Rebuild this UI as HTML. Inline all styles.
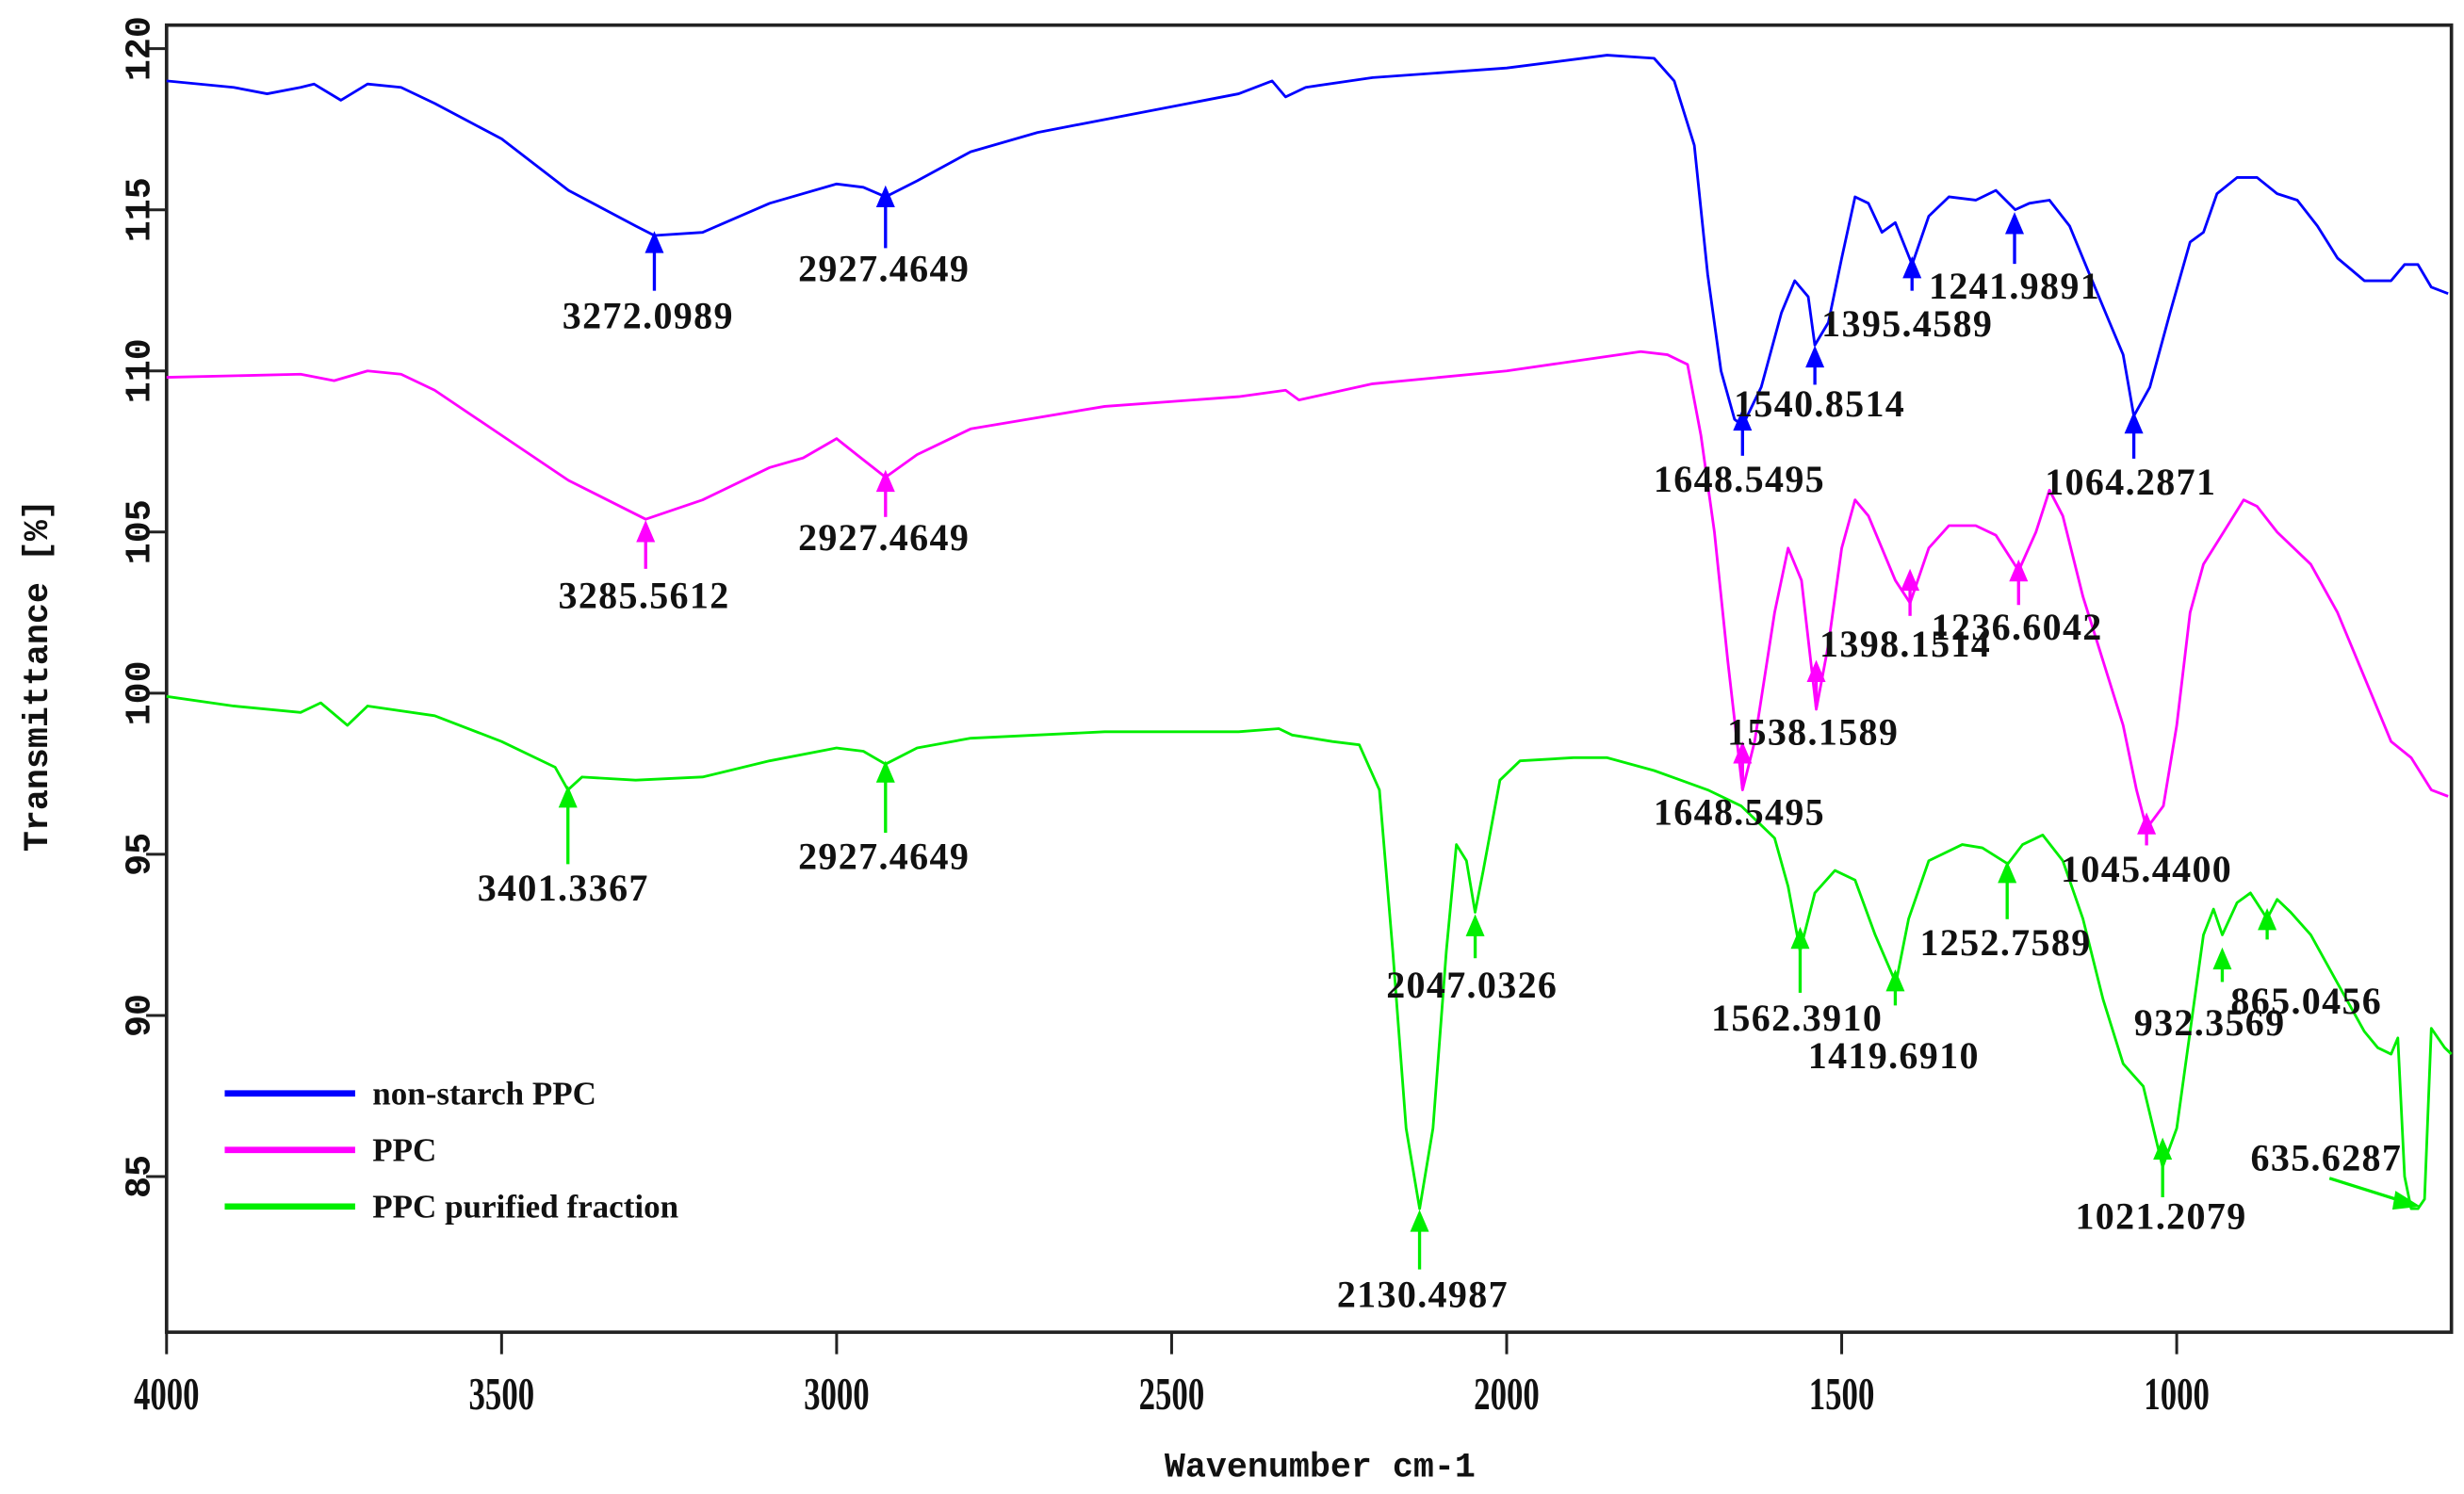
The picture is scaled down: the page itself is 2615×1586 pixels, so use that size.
<!DOCTYPE html>
<html><head><meta charset="utf-8"><style>
html,body{margin:0;padding:0;background:#fff;}
svg{display:block;}
text{font-family:"Liberation Serif","Noto Serif CJK SC",serif;font-weight:bold;fill:#111;}
</style></head><body>
<svg id="chart" width="2615" height="1586" viewBox="0 0 1568 951" preserveAspectRatio="none" xmlns="http://www.w3.org/2000/svg">
<rect x="106" y="16" width="1454" height="832" fill="none" stroke="#222" stroke-width="2.2"/>
<g id="axes"></g>
<g id="series"></g>
<g id="annots"></g>
<text transform="translate(30,430) rotate(-90)" text-anchor="middle" font-size="22" style="font-family:'Liberation Mono',monospace">Transmittance [%]</text>
<text x="840" y="940" text-anchor="middle" font-size="22" style="font-family:'Liberation Mono',monospace">Wavenumber cm-1</text>
<g>
<line x1="143" y1="696" x2="226" y2="696" stroke="#0000ff" stroke-width="4"/>
<text x="237" y="703" font-size="21">non-starch PPC</text>
<line x1="143" y1="732" x2="226" y2="732" stroke="#ff00ff" stroke-width="4"/>
<text x="237" y="739" font-size="21">PPC</text>
<line x1="143" y1="768" x2="226" y2="768" stroke="#00ee00" stroke-width="4"/>
<text x="237" y="775" font-size="21">PPC purified fraction</text>
</g>
</svg>
<script>
const xTicks = [4000,3500,3000,2500,2000,1500,1000];
const yTicks = [85,90,95,100,105,110,115,120];
const blueWn = [4000,3900,3850,3800,3780,3740,3700,3650,3600,3500,3400,3300,3272,3200,3100,3000,2960,2927,2880,2800,2700,2500,2400,2350,2330,2300,2200,2000,1850,1780,1750,1720,1700,1680,1660,1648,1620,1590,1570,1550,1540,1520,1500,1480,1460,1440,1420,1395,1370,1340,1300,1270,1241,1220,1190,1160,1130,1100,1080,1064,1040,1010,980,960,940,910,880,850,820,790,760,720,680,660,640,620,595];
const blueVal = [119.0,118.8,118.6,118.8,118.9,118.4,118.9,118.8,118.3,117.2,115.6,114.5,114.2,114.3,115.2,115.8,115.7,115.4,115.9,116.8,117.4,118.2,118.6,119.0,118.5,118.8,119.1,119.4,119.8,119.7,119.0,117.0,113.0,110.0,108.5,108.3,109.5,111.8,112.8,112.3,110.8,111.5,113.5,115.4,115.2,114.3,114.6,113.3,114.8,115.4,115.3,115.6,115.0,115.2,115.3,114.5,113.0,111.5,110.5,108.6,109.5,111.8,114.0,114.3,115.5,116.0,116.0,115.5,115.3,114.5,113.5,112.8,112.8,113.3,113.3,112.6,112.4];
const pinkWn = [4000,3800,3750,3700,3650,3600,3500,3400,3285,3200,3100,3050,3000,2970,2927,2880,2800,2600,2400,2330,2310,2200,2000,1800,1760,1730,1710,1690,1670,1648,1630,1600,1580,1560,1538,1520,1500,1480,1460,1420,1398,1370,1340,1300,1270,1236,1210,1190,1170,1140,1110,1080,1060,1045,1020,1000,980,960,930,900,880,850,800,760,720,680,650,620,595];
const pinkVal = [109.8,109.9,109.7,110.0,109.9,109.4,108.0,106.6,105.4,106.0,107.0,107.3,107.9,107.4,106.7,107.4,108.2,108.9,109.2,109.4,109.1,109.6,110.0,110.6,110.5,110.2,108.0,105.0,101.0,97.0,98.5,102.5,104.5,103.5,99.5,101.5,104.5,106.0,105.5,103.5,102.8,104.5,105.2,105.2,104.9,103.8,105.0,106.3,105.5,103.0,101.0,99.0,97.0,95.8,96.5,99.0,102.5,104.0,105.0,106.0,105.8,105.0,104.0,102.5,100.5,98.5,98.0,97.0,96.8];
const greenWn = [4000,3900,3800,3770,3730,3700,3600,3500,3420,3401,3380,3300,3200,3100,3000,2960,2927,2880,2800,2600,2400,2340,2320,2260,2220,2190,2170,2150,2130,2110,2090,2075,2060,2047,2035,2010,1980,1900,1850,1780,1700,1650,1620,1600,1580,1562,1540,1510,1480,1450,1419,1400,1370,1320,1290,1252,1230,1200,1170,1140,1110,1080,1050,1021,1000,980,960,945,932,910,890,865,850,830,800,760,720,700,680,670,660,650,640,630,620,600,590];
const greenVal = [99.9,99.6,99.4,99.7,99.0,99.6,99.3,98.5,97.7,97.0,97.4,97.3,97.4,97.9,98.3,98.2,97.8,98.3,98.6,98.8,98.8,98.9,98.7,98.5,98.4,97.0,92.0,86.5,84.0,86.5,92.0,95.3,94.8,93.2,94.5,97.3,97.9,98.0,98.0,97.6,97.0,96.5,95.9,95.5,94.0,92.0,93.8,94.5,94.2,92.5,91.0,93.0,94.8,95.3,95.2,94.7,95.3,95.6,94.8,93.0,90.5,88.5,87.8,85.3,86.5,89.5,92.5,93.3,92.5,93.5,93.8,93.0,93.6,93.2,92.5,91.0,89.5,89.0,88.8,89.3,85.0,84.0,84.0,84.3,89.6,89.0,88.8];
const blueLabels = ["3272.0989","2927.4649","1648.5495","1540.8514","1395.4589","1241.9891","1064.2871"];
const blueTipWn = [3272,2927,1648,1540,1395,1242,1064];
const blueTipVal = [114.34,115.76,108.83,110.79,113.56,114.93,108.74];
const pinkLabels = ["3285.5612","2927.4649","1648.5495","1538.1589","1398.1514","1236.6042","1045.4400"];
const pinkTipWn = [3285,2927,1648,1538,1398,1236,1045];
const pinkTipVal = [105.37,106.93,98.50,101.03,103.86,104.15,96.30];
const greenLabels = ["3401.3367","2927.4649","2130.4987","2047.0326","1562.3910","1419.6910","1252.7589","1021.2079","932.3569","865.0456"];
const greenTipWn = [3401,2927,2130,2047,1562,1420,1253,1021,932,865];
const greenTipVal = [97.13,97.91,83.97,93.14,92.75,91.43,94.79,86.21,92.11,93.33];

const NS='http://www.w3.org/2000/svg';
const X0=106,X1=1560,Y0=848,Y1=16,WMAX=4000,WMIN=590,VMIN=80.17,VMAX=120.73;
function xs(w){return X0+(WMAX-w)/(WMAX-WMIN)*(X1-X0);}
function ys(v){return Y0-(v-VMIN)/(VMAX-VMIN)*(Y0-Y1);}
function mk(tag,attrs,parent){const e=document.createElementNS(NS,tag);for(const k in attrs)e.setAttribute(k,attrs[k]);parent.appendChild(e);return e;}
const axes=document.getElementById('axes');
xTicks.forEach(t=>{
  const l=mk('line',{x1:xs(t),x2:xs(t),y1:848,y2:862,stroke:'#222','stroke-width':1.8},axes);
  
  
  const tx=mk('text',{x:xs(t),y:897,'text-anchor':'middle','font-size':29,transform:`translate(${xs(t)},0) scale(0.72,1) translate(${-xs(t)},0)`},axes);
  tx.textContent=t;
  
  
});
yTicks.forEach(t=>{
  const l=mk('line',{x1:93,x2:106,y1:ys(t),y2:ys(t),stroke:'#222','stroke-width':1.8},axes);
  
  
  const tx=mk('text',{transform:`translate(102,${ys(t)}) rotate(-90)`,'text-anchor':'middle','font-size':23,y:-7,style:"font-family:'Liberation Mono',monospace"},axes);
  tx.textContent=t;
  
  
});
const sg=document.getElementById('series');
function drawSeries(wn,val,color,name){
  const d=wn.map((w,i)=>(i?'L':'M')+xs(w).toFixed(1)+','+ys(val[i]).toFixed(1)).join('');
  const p=mk('path',{d:d,fill:'none',stroke:color,'stroke-width':1.7,'stroke-linejoin':'round'},sg);
  
  
}
drawSeries(blueWn,blueVal,'#0000ff','series-non-starch-ppc');
drawSeries(pinkWn,pinkVal,'#ff00ff','series-ppc');
drawSeries(greenWn,greenVal,'#00ee00','series-ppc-purified');
const ag=document.getElementById('annots');
function annotate(labels,wn,val,color,offs,name){
  labels.forEach((lab,i)=>{
    const x=xs(wn[i]),ty=ys(val[i]),len=offs[i][2]||30;
    const a=mk('line',{x1:x,x2:x,y1:ty+10,y2:ty+len,stroke:color,'stroke-width':2},ag);
    
    
    const h=mk('polygon',{points:`${x},${ty} ${x-6},${ty+14} ${x+6},${ty+14}`,fill:color},ag);
    
    
    const t=mk('text',{x:x+offs[i][0],y:ty+offs[i][1],'text-anchor':'middle','font-size':24,'letter-spacing':'0.8'},ag);
    t.textContent=lab;
    
    
  });
}
annotate(blueLabels,blueTipWn,blueTipVal,'#0000ff',[[-4,62,38],[-1,61,40],[-2,53,30],[3,45,25],[-3,51,22],[0,55,33],[-2,53,30]],'peak-non-starch');
annotate(pinkLabels,pinkTipWn,pinkTipVal,'#ff00ff',[[-1,56,31],[-1,51,30],[-2,53,30],[-2,54,30],[-3,56,30],[-1,51,29],[0,44,21]],'peak-ppc');
annotate(greenLabels,greenTipWn,greenTipVal,'#00ee00',[[-3,73,50],[-1,69,46],[2,62,38],[-2,53,28],[-2,66,42],[-1,63,23],[-1,60,37],[-1,58,38],[-8,56,22],[25,67,20]],'peak-purified');
(function(){
  const x=xs(636),y=ys(84.07);
  const l=mk('line',{x1:x-58,x2:x-4,y1:y-18,y2:y-1,stroke:'#00ee00','stroke-width':2},ag);
  
  
  const h=mk('polygon',{points:`${x},${y} ${x-16},${y-10} ${x-18},${y+2}`,fill:'#00ee00'},ag);
  
  
  const t=mk('text',{x:x-60,y:y-23,'text-anchor':'middle','font-size':24,'letter-spacing':'0.8'},ag);
  t.textContent='635.6287';
  
  
})();
</script>
</body></html>
